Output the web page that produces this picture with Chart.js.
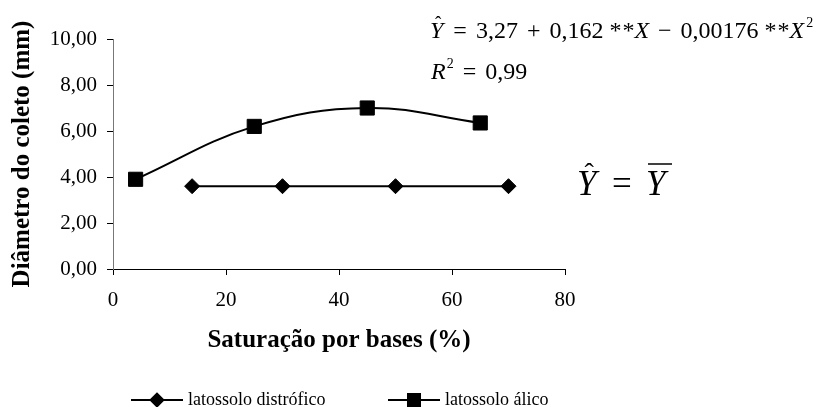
<!DOCTYPE html>
<html>
<head>
<meta charset="utf-8">
<script src="https://cdn.jsdelivr.net/npm/chart.js@4"></script>
<style>
  body { margin: 0; background: #fff; }
  #wrap { width: 817px; height: 407px; }
</style>
</head>
<body>
<div id="wrap"><canvas id="chart"></canvas></div>
<script>
const distroficoX = [14, 30, 50, 70];
const distroficoY = [3.6, 3.6, 3.6, 3.6];
const alicoX = [4, 25, 45, 65];
const alicoY = [3.9, 6.2, 7.0, 6.35];
const seriesNames = ['latossolo distrófico', 'latossolo álico'];
const xTicks = [0, 20, 40, 60, 80];
const yTicks = [0, 2, 4, 6, 8, 10];

const serif = '"Liberation Serif", "Times New Roman", serif';

function toPoints(xs, ys) {
  return xs.map((x, i) => ({ x: x, y: ys[i] }));
}

// excel-like legend: line with marker in the middle
const legendPlugin = {
  id: 'lineLegend',
  afterDraw(chart) {
    const ctx = chart.ctx;
    const y = 400;
    const items = [
      { x0: 131, ds: chart.data.datasets[0] },
      { x0: 388, ds: chart.data.datasets[1] }
    ];
    ctx.save();
    items.forEach(it => {
      ctx.strokeStyle = '#000';
      ctx.lineWidth = 2;
      ctx.beginPath();
      ctx.moveTo(it.x0, y);
      ctx.lineTo(it.x0 + 52, y);
      ctx.stroke();
      ctx.fillStyle = '#000';
      Chart.helpers.drawPoint(ctx, {
        pointStyle: it.ds.pointStyle,
        radius: it.ds.pointRadius * 0.85,
        borderWidth: 1
      }, it.x0 + 26, y);
      ctx.fill();
      ctx.font = '18px ' + serif;
      ctx.textBaseline = 'middle';
      ctx.fillText(it.ds.label, it.x0 + 57, y);
    });
    ctx.restore();
  }
};

// regression equations drawn as text
const eqPlugin = {
  id: 'equations',
  afterDraw(chart) {
    const ctx = chart.ctx;
    ctx.save();
    ctx.fillStyle = '#000';
    ctx.strokeStyle = '#000';
    ctx.textBaseline = 'alphabetic';
    const fs = 24;
    const normal = fs + 'px ' + serif;
    const ital = 'italic ' + fs + 'px ' + serif;
    const sup = Math.round(fs * 0.6) + 'px ' + serif;

    function hat(x, w, y, size) {
      ctx.font = Math.round(size * 0.8) + 'px ' + serif;
      ctx.textAlign = 'center';
      ctx.fillText('ˆ', x + w * 0.62, y - size * 0.36);
      ctx.textAlign = 'left';
    }

    // tokens flowed left to right, g = gap after token
    function run(tokens, x, y) {
      tokens.forEach(t => {
        ctx.font = t.f;
        ctx.fillText(t.s, x, y + (t.dy || 0));
        const w = ctx.measureText(t.s).width;
        if (t.hat) hat(x, w, y, fs);
        x += w + (t.g || 0);
      });
    }

    run([
      { s: 'Y', f: ital, hat: true, g: 10 },
      { s: '=', f: normal, g: 9 },
      { s: '3,27', f: normal, g: 9 },
      { s: '+', f: normal, g: 9 },
      { s: '0,162', f: normal, g: 6 },
      { s: '*', f: normal, g: 1 },
      { s: '*', f: normal, g: 0 },
      { s: 'X', f: ital, g: 9 },
      { s: '−', f: normal, g: 9 },
      { s: '0,00176', f: normal, g: 6 },
      { s: '*', f: normal, g: 1 },
      { s: '*', f: normal, g: 0 },
      { s: 'X', f: ital, g: 2 },
      { s: '2', f: sup, dy: -11 }
    ], 430, 38);

    run([
      { s: 'R', f: ital, g: 1 },
      { s: '2', f: sup, dy: -11, g: 9 },
      { s: '=', f: normal, g: 9 },
      { s: '0,99', f: normal }
    ], 431, 79);

    // Y hat = Y bar
    const big = 35;
    ctx.font = 'italic ' + big + 'px ' + serif;
    ctx.fillText('Y', 577, 195);
    hat(577, ctx.measureText('Y').width, 195, big);
    ctx.font = big + 'px ' + serif;
    ctx.fillText('=', 612, 195);
    ctx.font = 'italic ' + big + 'px ' + serif;
    ctx.fillText('Y', 646, 195);
    ctx.lineWidth = 1.5;
    ctx.beginPath();
    ctx.moveTo(648, 164);
    ctx.lineTo(672, 164);
    ctx.stroke();
    ctx.restore();
  }
};

new Chart(document.getElementById('chart'), {
  type: 'scatter',
  data: {
    datasets: [{
      label: seriesNames[0],
      data: toPoints(distroficoX, distroficoY),
      showLine: true,
      borderColor: '#000',
      backgroundColor: '#000',
      borderWidth: 2,
      pointStyle: 'rectRot',
      pointRadius: 7.5,
      pointBorderWidth: 1,
      tension: 0
    }, {
      label: seriesNames[1],
      data: toPoints(alicoX, alicoY),
      showLine: true,
      borderColor: '#000',
      backgroundColor: '#000',
      borderWidth: 2,
      pointStyle: 'rect',
      pointRadius: 10,
      pointBorderWidth: 1,
      tension: 0.4
    }]
  },
  options: {
    responsive: true,
    maintainAspectRatio: false,
    animation: false,
    layout: { padding: { left: 0, right: 252, top: 39, bottom: 0 } },
    plugins: {
      legend: { display: false },
      tooltip: { enabled: false }
    },
    scales: {
      x: {
        type: 'linear',
        min: 0,
        max: 80,
        afterBuildTicks: s => { s.ticks = xTicks.map(v => ({ value: v })); },
        afterFit: s => { s.height = 138; },
        grid: { drawOnChartArea: false, drawTicks: true, tickLength: 6, color: '#000' },
        border: { display: true, color: '#000', width: 1 },
        ticks: {
          color: '#000',
          font: { family: serif, size: 21 },
          padding: 13,
          maxRotation: 0
        },
        title: {
          display: true,
          text: 'Saturação por bases (%)',
          color: '#000',
          font: { family: serif, size: 25, weight: 'bold' },
          padding: { top: 0, bottom: 51 }
        }
      },
      y: {
        min: 0,
        max: 10,
        afterBuildTicks: s => { s.ticks = yTicks.map(v => ({ value: v })); },
        afterFit: s => { s.width = 113; },
        grid: { drawOnChartArea: false, drawTicks: true, tickLength: 6, color: '#000' },
        border: { display: true, color: '#777', width: 1 },
        ticks: {
          color: '#000',
          font: { family: serif, size: 21 },
          padding: 10,
          callback: v => v.toFixed(2).replace('.', ',')
        },
        title: {
          display: true,
          text: 'Diâmetro do coleto (mm)',
          color: '#000',
          font: { family: serif, size: 25, weight: 'bold' },
          padding: { top: 8, bottom: 0 }
        }
      }
    }
  },
  plugins: [legendPlugin, eqPlugin]
});
</script>
</body>
</html>
